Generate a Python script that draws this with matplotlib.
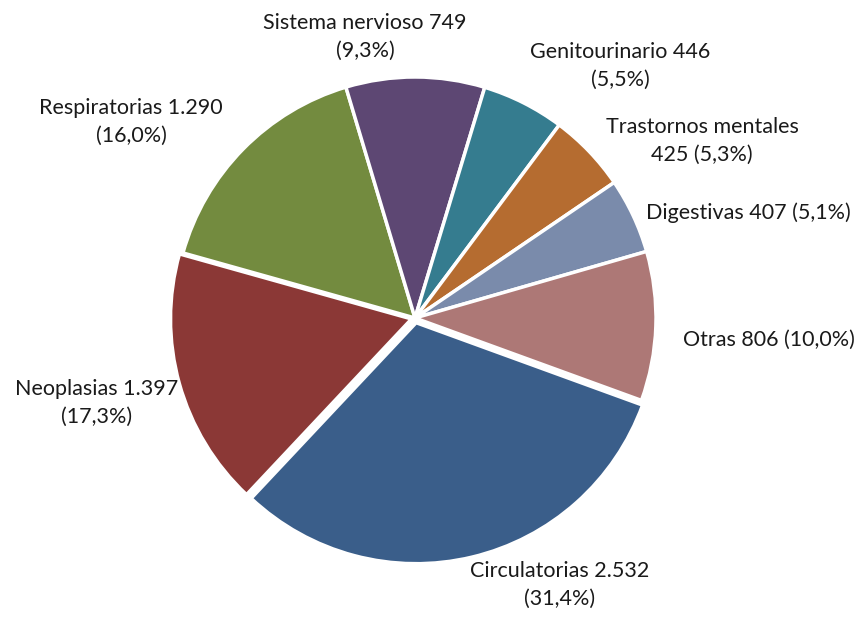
import numpy as np
import matplotlib
matplotlib.use('Agg')
import matplotlib.pyplot as plt

plt.rcParams['font.family'] = ['Lato', 'DejaVu Sans']

# datos (orden horario empezando por Circulatorias)
categorias = ['Circulatorias', 'Neoplasias', 'Respiratorias', 'Sistema nervioso',
              'Genitourinario', 'Trastornos mentales', 'Digestivas', 'Otras']
valores = [2532, 1397, 1290, 749, 446, 425, 407, 806]
porcentajes = ['31,4%', '17,3%', '16,0%', '9,3%', '5,5%', '5,3%', '5,1%', '10,0%']
valores_txt = ['2.532', '1.397', '1.290', '749', '446', '425', '407', '806']

colores = ['#3a5e8a', '#8b3836', '#738b3f', '#5d4773',
           '#357c8f', '#b56c30', '#7a8bab', '#ad7876']
separacion = [0.02, 0.015, 0, 0, 0, 0, 0, 0]

# posicion de cada etiqueta en pixeles de la imagen original y formato
etiq_pos = [(560, 585), (97, 403), (131, 122), (365, 37),
            (620, 66), (702, 141), (748, 213), (769, 340)]
etiq_fmt = ['{c} {v}\n({p})', '{c} {v}\n({p})', '{c} {v}\n({p})', '{c} {v}\n({p})',
            '{c} {v}\n({p})', '{c}\n{v} ({p})', '{c} {v} ({p})', '{c} {v} ({p})']

fig = plt.figure(figsize=(8.62, 6.17), dpi=100)
cx, cy, r = 415, 318, 241
ax = fig.add_axes([(cx - r) / 862, (617 - cy - r) / 617, 2 * r / 862, 2 * r / 617])

ax.pie(valores, colors=colores, explode=separacion, startangle=-20, counterclock=False,
       wedgeprops=dict(edgecolor='white', linewidth=2.5))
ax.set_xlim(-1, 1)
ax.set_ylim(-1, 1)
ax.set_aspect('equal')
ax.axis('off')

for i in range(len(categorias)):
    px, py = etiq_pos[i]
    txt = etiq_fmt[i].format(c=categorias[i], v=valores_txt[i], p=porcentajes[i])
    ax.text((px - cx) / r, (cy - py) / r, txt, ha='center', va='center',
            fontsize=15.5, color='#1a1a1a', linespacing=1.45, clip_on=False)

fig.savefig('out.png', dpi=100, facecolor='white')
